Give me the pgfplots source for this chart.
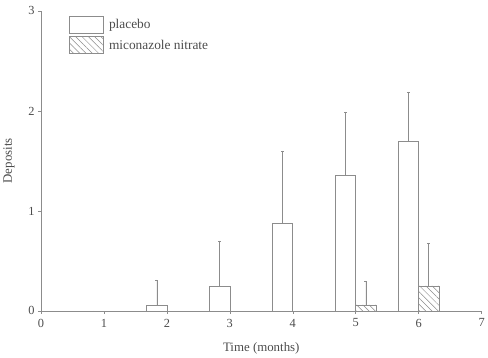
\documentclass[border=0pt]{standalone}
\usepackage{pgfplots}
\pgfplotsset{compat=1.18}
\usepackage{fontspec}
\setmainfont{Liberation Serif}
\usetikzlibrary{patterns.meta}
\definecolor{ln}{gray}{0.55}
\definecolor{tx}{gray}{0.3}
\begin{document}
\begin{tikzpicture}
\begin{axis}[
  scale only axis, width=445pt, height=303pt,
  xmin=0, xmax=7, ymin=0, ymax=3,
  axis x line=bottom, axis y line=left,
  axis line style={ln, -, line width=0.6pt},
  xtick={0,...,7}, ytick={0,1,2,3},
  tick style={ln, line width=0.5pt},
  major tick length=3pt,
  tick align=outside,
  ticklabel style={font=\fontsize{12.5}{14}\selectfont, text=tx},
  xticklabel style={yshift=-1.5pt},
  /pgf/number format/assume math mode=true,
  xlabel={Time (months)}, ylabel={Deposits},
  label style={font=\fontsize{13}{15}\selectfont, text=tx},
  xlabel style={yshift=-9pt},
  ylabel style={yshift=7pt},
  ybar, bar width=0.32,
  legend style={at={(0.056,0.99)}, anchor=north west, draw=none, fill=none,
    font=\fontsize{13.5}{15}\selectfont, text=tx, row sep=3pt,
    nodes={inner xsep=5pt}},
  legend cell align=left,
  legend image code/.code={\draw[#1, line width=0.6pt] (0pt,-8.5pt) rectangle (35pt,8.5pt);},
  clip=false,
]
\addplot[draw=ln, fill=white, line width=0.6pt, bar shift=-0.16,
  error bars/.cd, y dir=plus, y explicit, error bar style={ln, line width=0.5pt}, error mark options={ln, mark size=1.5pt, rotate=90}]
  coordinates {(1,0) +- (0,0) (2,0.06) +- (0,0.25) (3,0.25) +- (0,0.45) (4,0.88) +- (0,0.72) (5,1.36) +- (0,0.63) (6,1.70) +- (0,0.49)};
\addlegendentry{placebo}
\addplot[draw=ln, fill=white, line width=0.6pt, bar shift=0.16,
  postaction={pattern={Lines[angle=-45,distance=4.5pt,line width=0.5pt]}, pattern color=ln},
  error bars/.cd, y dir=plus, y explicit, error bar style={ln, line width=0.5pt}, error mark options={ln, mark size=1.5pt, rotate=90}]
  coordinates {(5,0.06) +- (0,0.24) (6,0.25) +- (0,0.43)};
\addlegendentry{miconazole nitrate}
\end{axis}
\path ([yshift=11pt]current axis.north);
\end{tikzpicture}
\end{document}
